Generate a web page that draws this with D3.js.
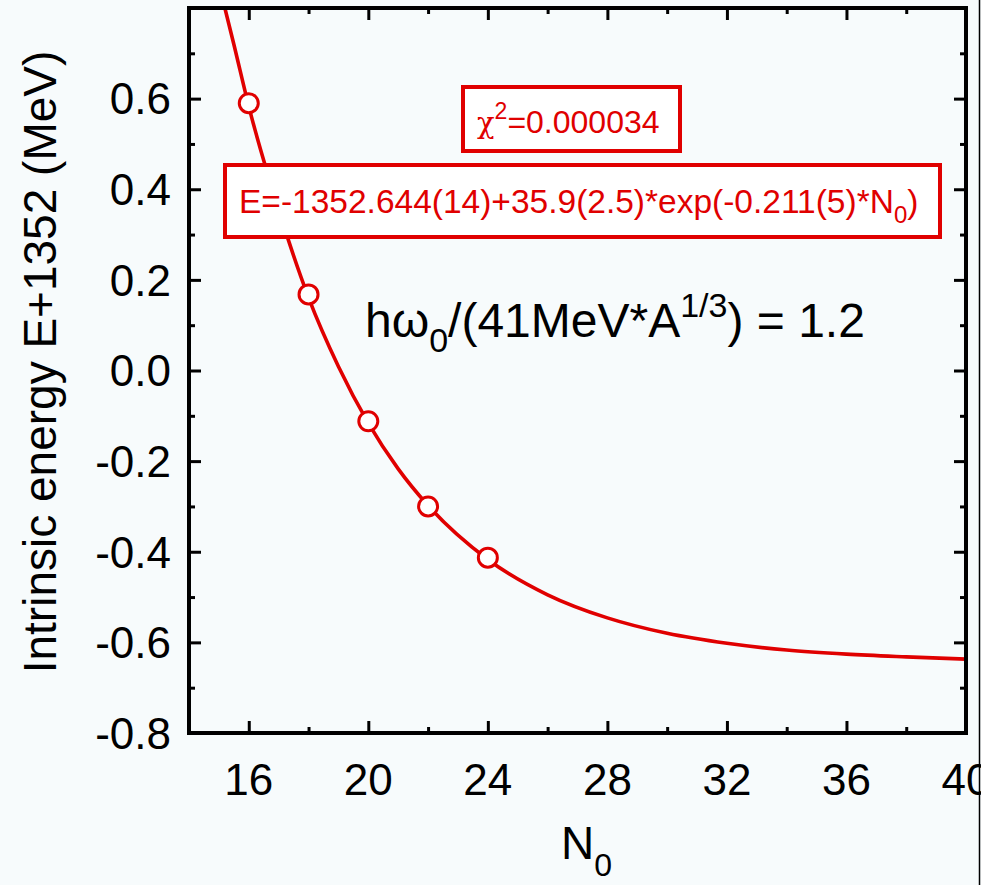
<!DOCTYPE html>
<html>
<head>
<meta charset="utf-8">
<script src="https://cdn.jsdelivr.net/npm/d3@7"></script>
<style>
  html, body { margin: 0; padding: 0; background: #f7fbfc; }
  svg { display: block; }
  text { font-family: "Liberation Sans", Arial, sans-serif; }
</style>
</head>
<body>
<svg id="chart" width="981" height="885"></svg>
<script>
// ---- data ----
const pointN = [16, 18, 20, 22, 24];
const pointE = [0.59, 0.168, -0.112, -0.30, -0.413];

// fitted curve
const curveN = [15.2, 15.5, 16, 17, 18, 19, 20, 21, 22, 24, 26, 28, 30, 32, 34, 36, 38, 40];
const curveE = [0.80, 0.72, 0.583, 0.355, 0.161, 0.009, -0.116, -0.217, -0.298, -0.417, -0.495, -0.546, -0.580, -0.602, -0.617, -0.626, -0.632, -0.637];

const xTicks = [16, 20, 24, 28, 32, 36, 40];
const xMinor = [14, 18, 22, 26, 30, 34, 38];
const yTicks = [0.6, 0.4, 0.2, 0.0, -0.2, -0.4, -0.6, -0.8];
const yMinor = [0.7, 0.5, 0.3, 0.1, -0.1, -0.3, -0.5, -0.7];

const yLabel = "Intrinsic energy E+1352 (MeV)";
const chiText = "=0.000034";
const fitText = "E=-1352.644(14)+35.9(2.5)*exp(-0.211(5)*N";

// ---- layout ----
const red = "#e00000";
const svg = d3.select("#chart");
const L = 189, R = 966, T = 8, B = 733;
const x = d3.scaleLinear().domain([14, 40]).range([L, R]);
const y = d3.scaleLinear().domain([-0.8, 0.8]).range([B, T]);

svg.append("rect").attr("width", 981).attr("height", 885).attr("fill", "#f7fbfc");

svg.append("clipPath").attr("id", "clip")
  .append("rect").attr("x", L).attr("y", T).attr("width", R - L).attr("height", B - T);

// curve
const line = d3.line().x((d, i) => x(curveN[i])).y((d, i) => y(curveE[i])).curve(d3.curveMonotoneX);
svg.append("path").attr("d", line(curveN)).attr("clip-path", "url(#clip)")
  .attr("fill", "none").attr("stroke", red).attr("stroke-width", 3.6);

// axes (ticks inward, mirrored)
function axisTicks(axis, ticks, size) {
  return axis.tickValues(ticks).tickSize(size).tickFormat("");
}
const tickW = 3;
const gs = [
  svg.append("g").attr("transform", `translate(0,${B})`).call(axisTicks(d3.axisTop(x), xTicks, 12)),
  svg.append("g").attr("transform", `translate(0,${B})`).call(axisTicks(d3.axisTop(x), xMinor, 6)),
  svg.append("g").attr("transform", `translate(0,${T})`).call(axisTicks(d3.axisBottom(x), xTicks, 12)),
  svg.append("g").attr("transform", `translate(0,${T})`).call(axisTicks(d3.axisBottom(x), xMinor, 6)),
  svg.append("g").attr("transform", `translate(${L},0)`).call(axisTicks(d3.axisRight(y), yTicks, 12)),
  svg.append("g").attr("transform", `translate(${L},0)`).call(axisTicks(d3.axisRight(y), yMinor, 6)),
  svg.append("g").attr("transform", `translate(${R},0)`).call(axisTicks(d3.axisLeft(y), yTicks, 12)),
  svg.append("g").attr("transform", `translate(${R},0)`).call(axisTicks(d3.axisLeft(y), yMinor, 6))
];
gs.forEach(g => {
  g.select(".domain").remove();
  g.selectAll("line").attr("stroke", "#000").attr("stroke-width", tickW);
});

// frame
svg.append("rect").attr("x", L).attr("y", T).attr("width", R - L).attr("height", B - T)
  .attr("fill", "none").attr("stroke", "#000").attr("stroke-width", 4);

// tick labels
svg.append("g").selectAll("text").data(xTicks).join("text")
  .attr("x", d => x(d)).attr("y", 795).attr("text-anchor", "middle")
  .attr("font-size", 44).attr("fill", "#000").text(d => d);
svg.append("g").selectAll("text").data(yTicks).join("text")
  .attr("x", 171).attr("y", d => y(d)).attr("dy", "0.36em").attr("text-anchor", "end")
  .attr("font-size", 44).attr("fill", "#000").text(d => d3.format(".1f")(d).replace("\u2212", "-"));

// axis titles
svg.append("text").attr("transform", "translate(56,362) rotate(-90)")
  .attr("text-anchor", "middle").attr("font-size", 46).attr("fill", "#000").text(yLabel);
const xt = svg.append("text").attr("x", 561).attr("y", 859).attr("font-size", 46).attr("fill", "#000");
xt.append("tspan").text("N");
xt.append("tspan").attr("font-size", 32).attr("dy", 17).text("0");

// markers
svg.append("g").selectAll("circle").data(pointN).join("circle")
  .attr("cx", d => x(d)).attr("cy", (d, i) => y(pointE[i])).attr("r", 9.5)
  .attr("fill", "#fff").attr("stroke", red).attr("stroke-width", 3);

// chi^2 box
svg.append("rect").attr("x", 463).attr("y", 87).attr("width", 217).attr("height", 64)
  .attr("fill", "#fff").attr("stroke", red).attr("stroke-width", 4);
const ct = svg.append("text").attr("x", 477).attr("y", 133).attr("font-size", 32).attr("fill", red);
ct.append("tspan").attr("font-family", "'DejaVu Serif', serif").attr("font-size", 29).text("χ");
ct.append("tspan").attr("font-size", 23).attr("dy", -14).text("2");
ct.append("tspan").attr("dy", 14).text(chiText);

// fit box
svg.append("rect").attr("x", 225).attr("y", 165).attr("width", 715).attr("height", 72)
  .attr("fill", "#fff").attr("stroke", red).attr("stroke-width", 4);
const ft = svg.append("text").attr("x", 239).attr("y", 213).attr("font-size", 33.5).attr("fill", red);
ft.append("tspan").text(fitText);
ft.append("tspan").attr("font-size", 24).attr("dy", 10).text("0");
ft.append("tspan").attr("dy", -10).text(")");

// h omega annotation
const ht = svg.append("text").attr("x", 365).attr("y", 337).attr("font-size", 48).attr("fill", "#000");
ht.append("tspan").text("hω");
ht.append("tspan").attr("font-size", 34).attr("dy", 15).text("0");
ht.append("tspan").attr("dy", -15).text("/(41MeV*A");
ht.append("tspan").attr("font-size", 34).attr("dy", -20).text("1/3");
ht.append("tspan").attr("dy", 20).text(") = 1.2");

// right edge line
svg.append("line").attr("x1", 979.5).attr("x2", 979.5).attr("y1", 0).attr("y2", 885)
  .attr("stroke", "#000").attr("stroke-width", 1.5);
</script>
</body>
</html>
